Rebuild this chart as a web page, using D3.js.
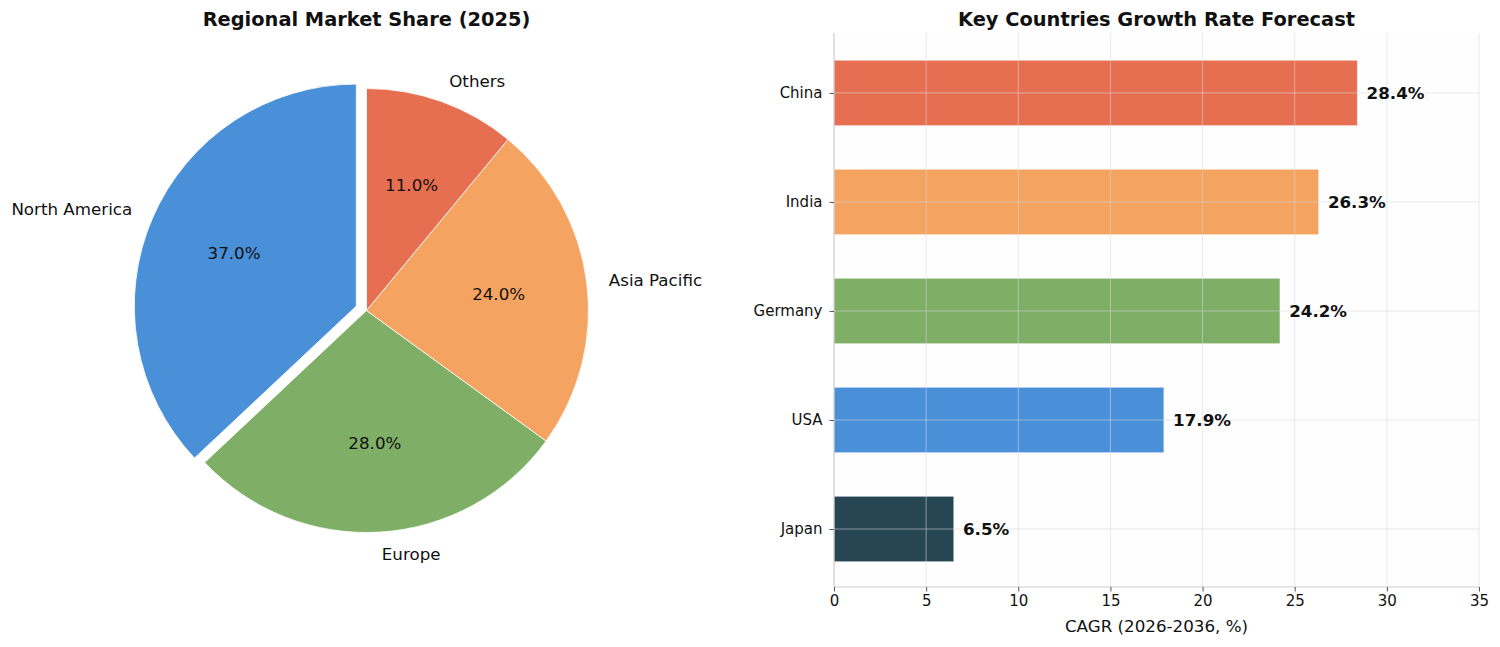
<html>
<head>
<meta charset="utf-8">
<script src="https://d3js.org/d3.v7.min.js"></script>
<style>
  body { margin: 0; background: #fff; }
  svg text { font-family: "DejaVu Sans", sans-serif; fill: #111; }
</style>
</head>
<body>
<div id="chart"></div>
<script>
// regional pie
var regions = ["North America", "Europe", "Asia Pacific", "Others"];
var shares = [37, 28, 24, 11];
var regionColors = ["#4a90d9", "#7fae67", "#f4a361", "#e76f51"];
var explode = [0.05, 0, 0, 0];

// countries bar
var countries = ["Japan", "USA", "Germany", "India", "China"];
var cagr = [6.5, 17.9, 24.2, 26.3, 28.4];
var countryColors = ["#264653", "#4a90d9", "#7fae67", "#f4a361", "#e76f51"];
var xTicks = [0, 5, 10, 15, 20, 25, 30, 35];

var W = 1500, H = 647;
var svg = d3.select("#chart").append("svg").attr("width", W).attr("height", H);

// ---------- pie ----------
var cx = 366.5, cy = 310.5, r = 222;
var pieG = svg.append("g").attr("transform", "translate(" + cx + "," + cy + ")");

// matplotlib style: start at top, go counter-clockwise
var pie = d3.pie().sort(null).startAngle(0).endAngle(-2 * Math.PI);
var arcs = pie(shares);
var arc = d3.arc().innerRadius(0).outerRadius(r);

function dir(a) {
  var m = (a.startAngle + a.endAngle) / 2;
  return [Math.sin(m), -Math.cos(m)];
}

var slice = pieG.selectAll("g.slice").data(arcs).enter().append("g")
  .attr("class", "slice")
  .attr("transform", function (d, i) {
    var v = dir(d);
    return "translate(" + v[0] * explode[i] * r + "," + v[1] * explode[i] * r + ")";
  });

slice.append("path")
  .attr("d", arc)
  .attr("fill", function (d, i) { return regionColors[i]; })
  .attr("stroke", "#fff")
  .attr("stroke-width", 0.8);

slice.append("text")
  .attr("x", function (d) { return dir(d)[0] * r * 0.6; })
  .attr("y", function (d) { return dir(d)[1] * r * 0.6; })
  .attr("text-anchor", "middle")
  .attr("dominant-baseline", "central")
  .style("font-size", "16.7px")
  .text(function (d, i) { return shares[i].toFixed(1) + "%"; });

slice.append("text")
  .attr("x", function (d) { return dir(d)[0] * r * 1.1; })
  .attr("y", function (d) { return dir(d)[1] * r * 1.1; })
  .attr("text-anchor", function (d) { return dir(d)[0] > 0 ? "start" : "end"; })
  .attr("dominant-baseline", "central")
  .style("font-size", "16.7px")
  .text(function (d, i) { return regions[i]; });

svg.append("text")
  .attr("x", cx).attr("y", 26)
  .attr("text-anchor", "middle")
  .style("font-size", "19.4px").style("font-weight", "bold")
  .text("Regional Market Share (2025)");

// ---------- bars ----------
var pL = 834, pR = 1479, pT = 33, pB = 587;
var x = d3.scaleLinear().domain([0, 35]).range([pL, pR]);
var y = d3.scaleLinear().domain([-0.532, 4.55]).range([pB, pT]);
var barH = (y(0) - y(1)) * 0.6;

var g = svg.append("g");

g.append("rect")
  .attr("x", pL).attr("y", pT)
  .attr("width", pR - pL).attr("height", pB - pT)
  .attr("fill", "#fefefe");

g.selectAll("rect.bar").data(cagr).enter().append("rect")
  .attr("class", "bar")
  .attr("x", x(0))
  .attr("y", function (d, i) { return y(i) - barH / 2; })
  .attr("width", function (d) { return x(d) - x(0); })
  .attr("height", barH)
  .attr("fill", function (d, i) { return countryColors[i]; })
  .attr("stroke", "rgba(255,255,255,0.5)")
  .attr("stroke-width", 1);

// grid drawn over bars
g.selectAll("line.vgrid").data(xTicks.slice(1)).enter().append("line")
  .attr("x1", function (d) { return x(d); }).attr("x2", function (d) { return x(d); })
  .attr("y1", pT).attr("y2", pB)
  .attr("stroke", "#d8d8d8").attr("stroke-opacity", 0.55).attr("stroke-width", 1);

g.selectAll("line.hgrid").data(countries).enter().append("line")
  .attr("x1", pL).attr("x2", pR)
  .attr("y1", function (d, i) { return y(i); }).attr("y2", function (d, i) { return y(i); })
  .attr("stroke", "#d8d8d8").attr("stroke-opacity", 0.55).attr("stroke-width", 1);

// value labels
g.selectAll("text.val").data(cagr).enter().append("text")
  .attr("x", function (d) { return x(d + 0.5); })
  .attr("y", function (d, i) { return y(i); })
  .attr("dominant-baseline", "central")
  .style("font-size", "16.7px").style("font-weight", "bold")
  .text(function (d) { return d.toFixed(1) + "%"; });

// axes
var xAxis = d3.axisBottom(x).tickValues(xTicks).tickSize(4.5).tickPadding(4);
var xg = svg.append("g").attr("transform", "translate(0," + pB + ")").call(xAxis);
var yAxis = d3.axisLeft(y).tickValues(d3.range(countries.length))
  .tickFormat(function (i) { return countries[i]; }).tickSize(4.5).tickPadding(7);
var yg = svg.append("g").attr("transform", "translate(" + pL + ",0)").call(yAxis);

[xg, yg].forEach(function (a) {
  a.select(".domain").attr("stroke", "#cccccc").attr("stroke-width", 1.2);
  a.selectAll(".tick line").attr("stroke", "#555");
  a.selectAll(".tick text").style("font-size", "15px").attr("fill", "#111");
});
xg.select(".domain").attr("d", "M" + pL + ",0H" + pR);
yg.select(".domain").attr("d", "M0," + pT + "V" + pB);

svg.append("text")
  .attr("x", (pL + pR) / 2).attr("y", 632)
  .attr("text-anchor", "middle")
  .style("font-size", "16.7px")
  .text("CAGR (2026-2036, %)");

svg.append("text")
  .attr("x", (pL + pR) / 2).attr("y", 26)
  .attr("text-anchor", "middle")
  .style("font-size", "19.4px").style("font-weight", "bold")
  .text("Key Countries Growth Rate Forecast");
</script>
</body>
</html>
